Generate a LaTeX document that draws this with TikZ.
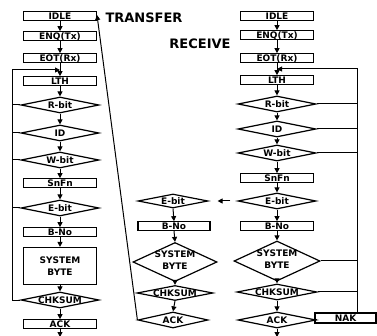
\documentclass[tikz,border=0pt]{standalone}
\usepackage{fontspec}
\setmainfont{DejaVu Sans}
\usetikzlibrary{shapes.geometric,arrows.meta}
\begin{document}
\begin{tikzpicture}[x=1pt,y=-1pt,
  line width=1pt,
  box/.style={draw, rectangle, inner sep=0pt, minimum width=73pt, minimum height=8.5pt, line width=1.2pt},
  dia/.style={draw, diamond, inner sep=0pt, minimum width=78pt, minimum height=16pt, line width=1.2pt},
  lbl/.style={font=\bfseries\fontsize{9}{10}\selectfont, inner sep=0pt, text height=6.6pt, text depth=0pt},
  every label/.style={lbl},
  twoline/.style={font=\bfseries\fontsize{9}{12.5}\selectfont, inner sep=0pt, align=center},
  arr/.style={-{Triangle[length=5pt,width=5pt]}},
  title/.style={font=\bfseries\fontsize{13}{15}\selectfont, inner sep=0pt}]
\useasboundingbox (0,0) rectangle (377,336);

% titles
\node[title] (ttr) at (144,18) {TRANSFER};
\node[title] (trc) at (200,44) {RECEIVE};

% left column (transfer)
\node[box,label=center:IDLE] (lidle) at (60,16) {};
\node[box,label=center:ENQ(Tx)] (lenq) at (60,36) {};
\node[box,label=center:EOT(Rx)] (leot) at (60,58) {};
\node[box,label=center:LTH] (llth) at (60,81) {};
\node[dia,label=center:R-bit] (lr) at (60,105) {};
\node[dia,label=center:ID] (lid) at (60,133) {};
\node[dia,label=center:W-bit] (lw) at (60,160) {};
\node[box,label=center:SnFn] (lsn) at (60,183) {};
\node[dia,label=center:E-bit] (le) at (60,208) {};
\node[box,label=center:B-No] (lb) at (60,232) {};
\node[box,minimum height=37pt] (lsys) at (60,266) {};
\node[twoline] (lsyst) at (lsys.center) {SYSTEM\\BYTE};
\node[dia,label=center:CHKSUM] (lchk) at (60,300) {};
\node[box,label=center:ACK] (lack) at (60,324) {};
\coordinate (lend) at (60,337);

\foreach \a/\b in {lidle/lenq,lenq/leot,leot/llth,llth/lr,lr/lid,lid/lw,lw/lsn,lsn/le,le/lb,lb/lsys,lsys/lchk,lchk/lack}
  \draw[arr] (\a.south) -- (\b.north);
\draw[arr] (lack.south) -- (lend);

\coordinate (ltop) at (12,70);
\coordinate (lm) at (60,70);
\draw[arr] (lchk.west) -| (ltop) -- (lm);
\foreach \n in {lr,lid,lw,le}
  \draw (\n.west) -- (\n.west -| ltop);

% right column (receive)
\node[box,label=center:IDLE] (ridle) at (277,16) {};
\node[box,label=center:ENQ(Tx)] (renq) at (277,35) {};
\node[box,label=center:EOT(Rx)] (reot) at (277,58) {};
\node[box,label=center:LTH] (rlth) at (277,80) {};
\node[dia,label=center:R-bit] (rr) at (277,104) {};
\node[dia,label=center:ID] (rid) at (277,129) {};
\node[dia,label=center:W-bit] (rw) at (277,153) {};
\node[box,label=center:SnFn] (rsn) at (277,178) {};
\node[dia,label=center:E-bit] (re) at (277,201) {};
\node[box,label=center:B-No] (rb) at (277,226) {};
\node[dia,minimum width=86pt,minimum height=40pt] (rsys) at (277,261) {};
\node[twoline] (rsyst) at (277,259) {SYSTEM\\BYTE};
\node[dia,minimum width=80pt,label=center:CHKSUM] (rchk) at (277,292) {};
\node[dia,label=center:ACK] (rack) at (277,320) {};
\coordinate (rend) at (277,337);
\node[box,minimum width=61pt,minimum height=10pt,label=center:NAK] (rnak) at (345.5,318) {};

\foreach \a/\b in {ridle/renq,renq/reot,reot/rlth,rlth/rr,rr/rid,rid/rw,rw/rsn,rsn/re,re/rb,rb/rsys,rsys/rchk,rchk/rack}
  \draw[arr] (\a.south) -- (\b.north);
\draw[arr] (rack.south) -- (rend);
\draw (rack.east) -- (rnak.west);

\coordinate (rtop) at (357,69);
\coordinate (rm) at (277,69);
\draw[arr] (rtop |- rnak.north) -- (rtop) -- (rm);
\foreach \n in {rr,rid,rw,rsys,rchk}
  \draw (\n.east) -- (\n.east -| rtop);

% middle branch
\node[dia,minimum width=70pt,minimum height=14pt,label=center:E-bit] (me) at (173,201) {};
\node[box,minimum width=72pt,label=center:B-No] (mb) at (174,226) {};
\node[dia,minimum width=84pt,minimum height=39pt] (msys) at (175,262) {};
\node[twoline] (msyst) at (175,260) {SYSTEM\\BYTE};
\node[dia,minimum width=76pt,minimum height=15pt,label=center:CHKSUM] (mchk) at (175,293) {};
\node[dia,minimum width=70pt,label=center:ACK] (mack) at (173,320) {};

\foreach \a/\b in {me/mb,mb/msys,msys/mchk,mchk/mack}
  \draw[arr] (\a.south) -- (\b.north);

\draw[arr, shorten <=7pt, shorten >=9pt] (re.west) -- (me.east);
\coordinate (tend) at (97,15);
\draw[arr] (mack.west) -- (tend);
\end{tikzpicture}
\end{document}
